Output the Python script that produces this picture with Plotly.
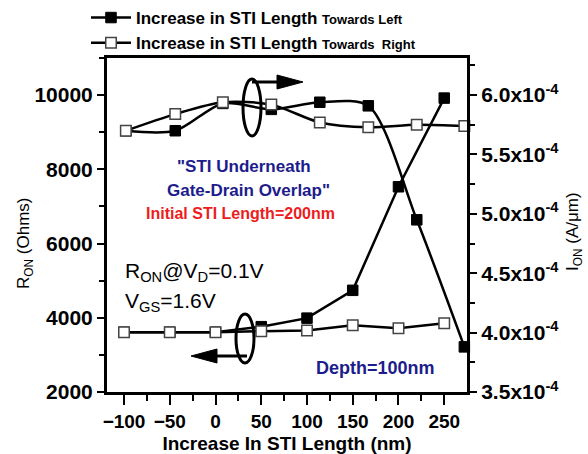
import plotly.graph_objects as go

# ---- data ----
x_ron = [-100, -50, 0, 50, 100, 150, 200, 250]
ron_left = [3610, 3610, 3610, 3760, 3990, 4740, 7530, 9920]
ron_right = [3610, 3610, 3610, 3640, 3660, 3800, 3720, 3850]

x_ion = [-98, -44, 8, 61, 114, 167, 220, 272]
ion_left = [5.70e-4, 5.70e-4, 5.93e-4, 5.88e-4, 5.94e-4, 5.91e-4, 4.95e-4, 3.88e-4]
ion_right = [5.70e-4, 5.84e-4, 5.94e-4, 5.92e-4, 5.77e-4, 5.73e-4, 5.75e-4, 5.74e-4]

x_ticks = [-100, -50, 0, 50, 100, 150, 200, 250]
ron_ticks = [2000, 4000, 6000, 8000, 10000]
ion_ticks = [3.5e-4, 4.0e-4, 4.5e-4, 5.0e-4, 5.5e-4, 6.0e-4]
ion_ticktext = ["3.5x10<sup>-4</sup>", "4.0x10<sup>-4</sup>", "4.5x10<sup>-4</sup>",
                "5.0x10<sup>-4</sup>", "5.5x10<sup>-4</sup>", "6.0x10<sup>-4</sup>"]
ion_minor = [3.75e-4, 4.25e-4, 4.75e-4, 5.25e-4, 5.75e-4, 6.25e-4]

name_left = "Increase in STI Length <span style='font-size:13px'>Towards Left</span>"
name_right = "Increase in STI Length <span style='font-size:13px'>Towards  Right</span>"

FONT = "Liberation Sans, Arial, sans-serif"
NAVY = "#1c1c8c"
RED = "#ee1c1c"

# plot area in pixels: x 107..467, y 58..392
def px(x):
    return (x - 107) / 360.0

def py(y):
    return (392 - y) / 334.0

filled = dict(symbol="square", size=10.5, color="black", line=dict(color="black", width=1))
openm = dict(symbol="square", size=10.5, color="white", line=dict(color="#444444", width=1.5))

fig = go.Figure()
fig.add_trace(go.Scatter(x=x_ron, y=ron_left, mode="lines+markers", name=name_left,
                         line=dict(color="black", width=2.5), marker=filled, cliponaxis=False))
fig.add_trace(go.Scatter(x=x_ron, y=ron_right, mode="lines+markers", name=name_right,
                         line=dict(color="black", width=2.5), marker=openm, cliponaxis=False))
fig.add_trace(go.Scatter(x=x_ion, y=ion_left, mode="lines+markers", yaxis="y2", showlegend=False,
                         line=dict(color="black", width=2.5, shape="spline", smoothing=0.8),
                         marker=filled, cliponaxis=False))
fig.add_trace(go.Scatter(x=x_ion, y=ion_right, mode="lines+markers", yaxis="y2", showlegend=False,
                         line=dict(color="black", width=2.5, shape="spline", smoothing=0.8),
                         marker=openm, cliponaxis=False))

xtickfont = dict(family=FONT, size=19, color="black", weight="bold")
ytickfont = dict(family=FONT, size=21, color="black", weight="bold")

fig.update_layout(
    width=588, height=454, autosize=False,
    margin=dict(l=107, r=121, t=58, b=62, autoexpand=False),
    paper_bgcolor="white", plot_bgcolor="white",
    font=dict(family=FONT, color="black"),
    showlegend=True,
    legend=dict(xref="container", yref="container", x=86 / 588, y=1.0,
                xanchor="left", yanchor="top",
                font=dict(family=FONT, size=17, color="black", weight="bold"),
                bgcolor="rgba(0,0,0,0)", itemwidth=40, tracegroupgap=0),
    xaxis=dict(range=[-118.6, 274.9], tickmode="array", tickvals=x_ticks, automargin=False,
               ticks="outside", ticklen=10, tickwidth=2, tickcolor="black",
               minor=dict(dtick=25, tick0=0, ticks="outside", ticklen=6, tickwidth=2, tickcolor="black"),
               showline=True, linewidth=3, linecolor="black", mirror=True,
               showgrid=False, zeroline=False, tickfont=xtickfont,
               title=dict(text="Increase In STI Length (nm)", standoff=10,
                          font=dict(family=FONT, size=19, color="black", weight="bold"))),
    yaxis=dict(range=[2000, 11000], tickmode="array", tickvals=ron_ticks, tickformat="d",
               automargin=False,
               ticks="outside", ticklen=7, tickwidth=2, tickcolor="black",
               minor=dict(dtick=1000, tick0=0, ticks="outside", ticklen=5, tickwidth=2, tickcolor="black"),
               showline=True, linewidth=3, linecolor="black",
               showgrid=False, zeroline=False, tickfont=ytickfont),
    yaxis2=dict(range=[3.5e-4, 6.3125e-4], overlaying="y", side="right", automargin=False,
                tickmode="array", tickvals=ion_ticks, ticktext=ion_ticktext,
                ticks="outside", ticklen=7, tickwidth=2, tickcolor="black",
                minor=dict(tickmode="array", tickvals=ion_minor, ticks="outside", ticklen=5,
                           tickwidth=2, tickcolor="black"),
                showline=True, linewidth=3, linecolor="black",
                showgrid=False, zeroline=False, tickfont=ytickfont),
)

ann = []
def text(x, y, s, size, color="black", bold=True, xanchor="center", angle=0):
    ann.append(dict(x=px(x), y=py(y), xref="paper", yref="paper", text=s, showarrow=False,
                    xanchor=xanchor, yanchor="middle", textangle=angle,
                    font=dict(family=FONT, size=size, color=color,
                              weight="bold" if bold else "normal")))

text(244, 166, '"STI Underneath', 17, NAVY)
text(248, 190, 'Gate-Drain Overlap"', 17, NAVY)
text(240, 213, "Initial STI Length=200nm", 16, RED)
text(123, 272, "R<sub>ON</sub>@V<sub>D</sub>=0.1V", 21, bold=False, xanchor="left")
text(123, 302, "V<sub>GS</sub>=1.6V", 21, bold=False, xanchor="left")
text(375, 368, "Depth=100nm", 18, NAVY)
text(25, 243, "R<sub>ON</sub> (Ohms)", 17, bold=False, angle=-90)
text(574, 232, "I<sub>ON</sub> (A/μm)", 17, bold=False, angle=-90)
fig.update_layout(annotations=ann)

shapes = []
# ellipses
shapes.append(dict(type="circle", xref="paper", yref="paper",
                   x0=px(243), x1=px(261), y0=py(136), y1=py(79),
                   line=dict(color="black", width=3)))
shapes.append(dict(type="circle", xref="paper", yref="paper",
                   x0=px(236), x1=px(254), y0=py(363), y1=py(314),
                   line=dict(color="black", width=3)))
# arrow to the right (top)
shapes.append(dict(type="line", xref="paper", yref="paper",
                   x0=px(252), x1=px(280), y0=py(82), y1=py(82),
                   line=dict(color="black", width=3)))
shapes.append(dict(type="path", xref="paper", yref="paper",
                   path=f"M {px(277)},{py(75)} L {px(303)},{py(82)} L {px(277)},{py(89)} Z",
                   fillcolor="black", line=dict(color="black", width=1)))
# arrow to the left (bottom)
shapes.append(dict(type="line", xref="paper", yref="paper",
                   x0=px(247), x1=px(214), y0=py(356), y1=py(356),
                   line=dict(color="black", width=3)))
shapes.append(dict(type="path", xref="paper", yref="paper",
                   path=f"M {px(191)},{py(356)} L {px(217)},{py(349)} L {px(217)},{py(363)} Z",
                   fillcolor="black", line=dict(color="black", width=1)))
fig.update_layout(shapes=shapes)

fig.write_html("out.html")
